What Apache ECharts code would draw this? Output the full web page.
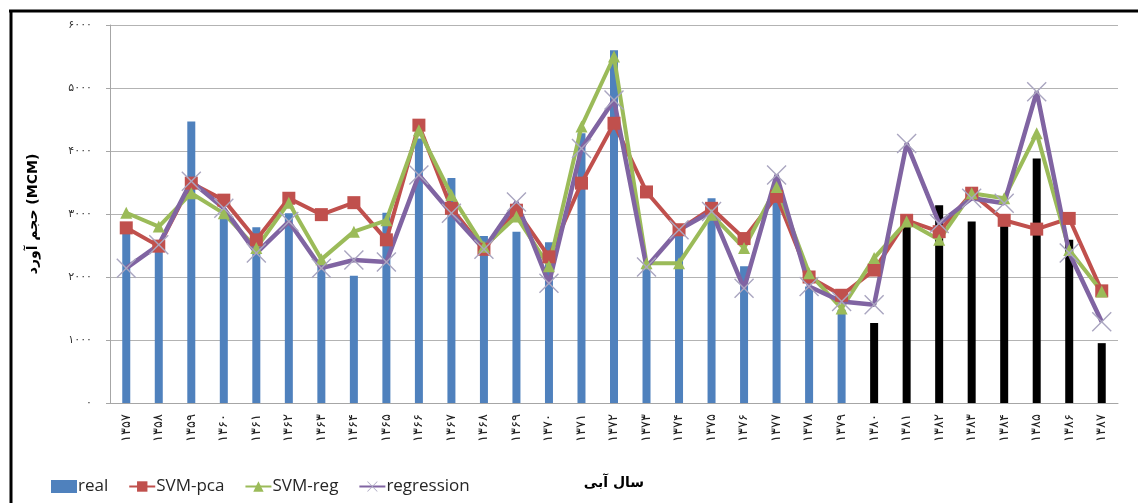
<!DOCTYPE html>
<html>
<head>
<meta charset="utf-8">
<script src="https://cdn.jsdelivr.net/npm/echarts@6/dist/echarts.min.js"></script>
<style>
  html, body { margin: 0; padding: 0; background: #fff; }
  #chart { width: 1138px; height: 503px; }
</style>
</head>
<body>
<div id="chart"></div>
<script>
// water years (Persian calendar)
const years = ['۱۳۵۷', '۱۳۵۸', '۱۳۵۹', '۱۳۶۰', '۱۳۶۱', '۱۳۶۲', '۱۳۶۳', '۱۳۶۴', '۱۳۶۵', '۱۳۶۶',
    '۱۳۶۷', '۱۳۶۸', '۱۳۶۹', '۱۳۷۰', '۱۳۷۱', '۱۳۷۲', '۱۳۷۳', '۱۳۷۴', '۱۳۷۵', '۱۳۷۶',
    '۱۳۷۷', '۱۳۷۸', '۱۳۷۹', '۱۳۸۰', '۱۳۸۱', '۱۳۸۲', '۱۳۸۳', '۱۳۸۴', '۱۳۸۵', '۱۳۸۶', '۱۳۸۷']

const real = [2800, 2550, 4470, 2960, 2790, 3010, 2200, 2020, 3020, 4200,
    3570, 2650, 2720, 2550, 4280, 5600, 2140, 2690, 3250, 2170,
    3200, 1850, 1480, 1270, 2850, 3140, 2880, 2850, 3880, 2590, 950]
const svmPca = [2780, 2490, 3490, 3220, 2590, 3250, 2990, 3180, 2590, 4410,
    3090, 2440, 3060, 2320, 3490, 4440, 3350, 2750, 3090, 2610,
    3280, 2000, 1710, 2110, 2900, 2720, 3330, 2900, 2760, 2930, 1780]
const svmReg = [3020, 2800, 3330, 3010, 2460, 3180, 2280, 2720, 2900, 4330,
    3300, 2480, 2960, 2170, 4390, 5500, 2220, 2220, 2990, 2460,
    3430, 2060, 1500, 2300, 2880, 2590, 3330, 3250, 4280, 2430, 1770]
const regression = [2140, 2510, 3520, 3090, 2380, 2880, 2140, 2270, 2240, 3620,
    3010, 2440, 3190, 1900, 4040, 4810, 2160, 2750, 3040, 1820,
    3620, 1850, 1610, 1560, 4120, 2850, 3250, 3170, 4940, 2380, 1290]

// index of first year drawn in black (validation period)
const blackFrom = 23

const faDigits = '۰۱۲۳۴۵۶۷۸۹'
const toFa = (v) => String(v).replace(/[0-9]/g, (d) => faDigits[d])

const xMarker = 'path://M0,1L1,0L10,9L19,0L20,1L11,10L20,19L19,20L10,11L1,20L0,19L9,10Z'

const chart = echarts.init(document.getElementById('chart'))

const option = {
    animation: false,
    backgroundColor: '#fff',
    textStyle: { fontFamily: 'DejaVu Sans' },
    grid: { left: 110, right: 20, top: 25, bottom: 100 },
    legend: {
        left: 46,
        top: 473,
        itemGap: 20,
        itemWidth: 26,
        itemHeight: 13,
        textStyle: { fontFamily: 'Open Sans', fontSize: 17, color: '#262626', padding: [0, 0, 0, -4] },
        data: [
            { name: 'real', icon: 'rect', itemStyle: { color: '#4f81bd' } },
            { name: 'SVM-pca' },
            { name: 'SVM-reg' },
            { name: 'regression' },
        ],
    },
    xAxis: {
        type: 'category',
        data: years,
        name: 'سال آبی',
        nameLocation: 'middle',
        nameGap: 73,
        nameTextStyle: { fontSize: 14, fontWeight: 'bold', color: '#000' },
        axisLine: { lineStyle: { color: '#a6a6a6' } },
        axisTick: { show: false },
        axisLabel: { rotate: 90, fontSize: 13, color: '#222', margin: 11 },
    },
    yAxis: {
        type: 'value',
        min: 0,
        max: 6000,
        interval: 1000,
        name: 'حجم آورد (MCM)',
        nameLocation: 'middle',
        nameRotate: 90,
        nameGap: 70,
        nameTextStyle: { fontSize: 14, fontWeight: 'bold', color: '#000' },
        axisLine: { show: true, lineStyle: { color: '#a6a6a6' } },
        axisTick: { show: true, length: 4, lineStyle: { color: '#a6a6a6' } },
        axisLabel: { fontSize: 11, color: '#333', margin: 18, formatter: (v) => toFa(v) },
        splitLine: { lineStyle: { color: '#b3b3b3', width: 1 } },
    },
    graphic: [
        { type: 'line', shape: { x1: 9, y1: 11, x2: 1138, y2: 11 }, style: { stroke: '#000', lineWidth: 3 } },
        { type: 'line', shape: { x1: 11, y1: 10, x2: 11, y2: 503 }, style: { stroke: '#000', lineWidth: 3 } },
    ],
    series: [
        {
            name: 'real',
            type: 'bar',
            barWidth: 8,
            itemStyle: { color: '#4f81bd' },
            data: real.map((v, i) => (i >= blackFrom ? { value: v, itemStyle: { color: '#000' } } : v)),
        },
        {
            name: 'SVM-pca',
            type: 'line',
            data: svmPca,
            symbol: 'rect',
            symbolSize: 13,
            lineStyle: { color: '#c0504d', width: 4 },
            itemStyle: { color: '#c0504d' },
        },
        {
            name: 'SVM-reg',
            type: 'line',
            data: svmReg,
            symbol: 'triangle',
            symbolSize: 12,
            lineStyle: { color: '#9bbb59', width: 4 },
            itemStyle: { color: '#9bbb59' },
        },
        {
            name: 'regression',
            type: 'line',
            data: regression,
            symbol: xMarker,
            symbolSize: 20,
            lineStyle: { color: '#8064a2', width: 4.5 },
            itemStyle: { color: '#aaa6c0' },
        },
    ],
}

chart.setOption(option)
</script>
</body>
</html>
